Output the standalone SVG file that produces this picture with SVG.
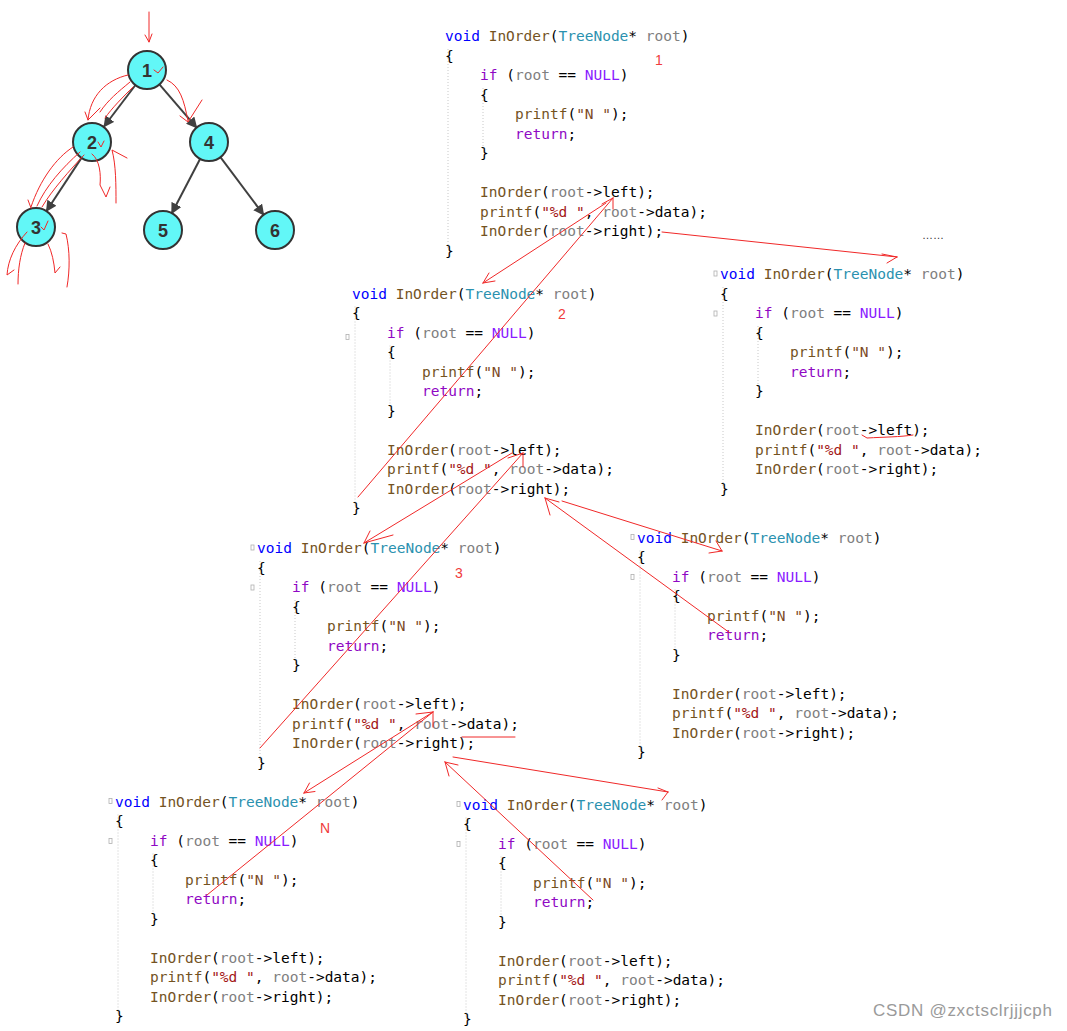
<svg xmlns="http://www.w3.org/2000/svg" width="1067" height="1031" viewBox="0 0 1067 1031">
<style>
.c{font-family:"DejaVu Sans Mono","Liberation Mono",monospace;font-size:14.5px;fill:#000}
.k{fill:#0000ff}.f{fill:#74531f}.t{fill:#2b91af}.p{fill:#808080}.r{fill:#8f08c4}.n{fill:#8a1bff}.s{fill:#a31515}.sn{fill:#7c4a26}
.g{stroke:#c8c8c8;stroke-width:1;stroke-dasharray:1 2;fill:none}
.m{fill:none;stroke:#b0b0b0;stroke-width:0.8}
.red{stroke:#f02828;stroke-width:1;fill:none;stroke-linecap:round;stroke-linejoin:round}
.num{font-family:"Liberation Sans",Arial,sans-serif;font-size:14px;fill:#f03c3c}
.nd{fill:#62f7f7;stroke:#333;stroke-width:2}
.nl{font-family:"Liberation Sans",Arial,sans-serif;font-size:18px;font-weight:bold;fill:#333;text-anchor:middle}
.e{stroke:#404040;stroke-width:2;fill:none}
</style>
<defs>
<marker id="ah" viewBox="0 0 10 10" refX="9" refY="5" markerWidth="5.5" markerHeight="5.5" orient="auto">
<path d="M0,0 L10,5 L0,10 z" fill="#404040"/>
</marker>
</defs>
<rect width="1067" height="1031" fill="#ffffff"/>

<!-- Tree -->
<g id="tree-edges">
<line class="e" x1="135.5" y1="85" x2="104" y2="126.5" marker-end="url(#ah)"/>
<line class="e" x1="159.4" y1="84.4" x2="196.6" y2="127.6" marker-end="url(#ah)"/>
<line class="e" x1="81.5" y1="157.9" x2="46.5" y2="211" marker-end="url(#ah)"/>
<line class="e" x1="200.2" y1="158.8" x2="171.8" y2="213.2" marker-end="url(#ah)"/>
<line class="e" x1="220.4" y1="157.2" x2="263.6" y2="214.8" marker-end="url(#ah)"/>
</g>
<g id="node-1"><circle class="nd" cx="147" cy="70" r="19"/><text class="nl" x="147" y="76.5">1</text></g>
<g id="node-2"><circle class="nd" cx="92" cy="142" r="19"/><text class="nl" x="92" y="148.5">2</text></g>
<g id="node-4"><circle class="nd" cx="209" cy="142" r="19"/><text class="nl" x="209" y="148.5">4</text></g>
<g id="node-3"><circle class="nd" cx="36" cy="227" r="19"/><text class="nl" x="36" y="233.5">3</text></g>
<g id="node-5"><circle class="nd" cx="163" cy="230" r="19"/><text class="nl" x="163" y="236.5">5</text></g>
<g id="node-6"><circle class="nd" cx="275" cy="230" r="19"/><text class="nl" x="275" y="236.5">6</text></g>

<!-- red scribbles on tree -->
<g id="tree-scribbles" class="red">
<path d="M149,12 L149,42 M145,35 L149,42 L152,34"/>
<path d="M154,70 L158,73 L163,67"/>
<path d="M128,75 C106,80 90,96 88,120 M85,112 L88,120 L100,108"/>
<path d="M133,87 C122,98 112,108 105,118"/>
<path d="M130,82 C118,92 108,100 100,112"/>
<path d="M167,80 C180,86 184,100 188,121 M180,116 L188,122 L202,100"/>
<path d="M98,142 L101,147 L104,141"/>
<path d="M73,147 C56,158 40,180 31,207 M28,200 L31,208"/>
<path d="M80,152 C62,168 46,186 37,206"/>
<path d="M84,155 C70,170 52,190 42,207"/>
<path d="M92,154 C100,160 101,175 100,185 L106,197 L110,187"/>
<path d="M127,158 L112,150 C116,165 116,185 116,203"/>
<path d="M41,227 L44,230 L48,221"/>
<path d="M27,232 C15,245 8,260 7,275 L14,270"/>
<path d="M25,243 C20,255 18,270 18,284"/>
<path d="M48,244 C52,252 54,262 55,273 L60,267"/>
<path d="M62,233 L66,234 C70,250 70,270 67,287"/>
</g>

<!-- Code blocks -->
<g id="block-1" transform="translate(445,41)">
<line class="g" x1="3" y1="8" x2="3" y2="208"/><line class="g" x1="38" y1="47" x2="38" y2="110"/>
<text class="c" x="0" y="0"><tspan class="k">void</tspan> <tspan class="f">InOrder</tspan>(<tspan class="t">TreeNode</tspan>* <tspan class="p">root</tspan>)</text>
<text class="c" x="0" y="19.5">{</text>
<text class="c" x="35" y="39"><tspan class="r">if</tspan> (<tspan class="p">root</tspan> == <tspan class="n">NULL</tspan>)</text>
<text class="c" x="35" y="58.5">{</text>
<text class="c" x="70" y="78"><tspan class="f">printf</tspan>(<tspan class="sn">"N "</tspan>);</text>
<text class="c" x="70" y="97.5"><tspan class="r">return</tspan>;</text>
<text class="c" x="35" y="117">}</text>
<text class="c" x="35" y="156"><tspan class="f">InOrder</tspan>(<tspan class="p">root</tspan>-&gt;left);</text>
<text class="c" x="35" y="175.5"><tspan class="f">printf</tspan>(<tspan class="s">"%d "</tspan>, <tspan class="p">root</tspan>-&gt;data);</text>
<text class="c" x="35" y="195"><tspan class="f">InOrder</tspan>(<tspan class="p">root</tspan>-&gt;right);</text>
<text class="c" x="0" y="214.5">}</text>
</g>

<g id="block-2" transform="translate(352,298.5)">
<line class="g" x1="3" y1="8" x2="3" y2="208"/><line class="g" x1="38" y1="47" x2="38" y2="110"/>
<rect class="m" x="-6" y="36" width="3" height="5"/>
<text class="c" x="0" y="0"><tspan class="k">void</tspan> <tspan class="f">InOrder</tspan>(<tspan class="t">TreeNode</tspan>* <tspan class="p">root</tspan>)</text>
<text class="c" x="0" y="19.5">{</text>
<text class="c" x="35" y="39"><tspan class="r">if</tspan> (<tspan class="p">root</tspan> == <tspan class="n">NULL</tspan>)</text>
<text class="c" x="35" y="58.5">{</text>
<text class="c" x="70" y="78"><tspan class="f">printf</tspan>(<tspan class="sn">"N "</tspan>);</text>
<text class="c" x="70" y="97.5"><tspan class="r">return</tspan>;</text>
<text class="c" x="35" y="117">}</text>
<text class="c" x="35" y="156"><tspan class="f">InOrder</tspan>(<tspan class="p">root</tspan>-&gt;left);</text>
<text class="c" x="35" y="175.5"><tspan class="f">printf</tspan>(<tspan class="s">"%d "</tspan>, <tspan class="p">root</tspan>-&gt;data);</text>
<text class="c" x="35" y="195"><tspan class="f">InOrder</tspan>(<tspan class="p">root</tspan>-&gt;right);</text>
<text class="c" x="0" y="214.5">}</text>
</g>

<g id="block-3" transform="translate(720,279)">
<line class="g" x1="3" y1="8" x2="3" y2="208"/><line class="g" x1="38" y1="47" x2="38" y2="110"/>
<rect class="m" x="-6" y="-8" width="3" height="5"/><rect class="m" x="-6" y="32" width="3" height="5"/>
<text class="c" x="0" y="0"><tspan class="k">void</tspan> <tspan class="f">InOrder</tspan>(<tspan class="t">TreeNode</tspan>* <tspan class="p">root</tspan>)</text>
<text class="c" x="0" y="19.5">{</text>
<text class="c" x="35" y="39"><tspan class="r">if</tspan> (<tspan class="p">root</tspan> == <tspan class="n">NULL</tspan>)</text>
<text class="c" x="35" y="58.5">{</text>
<text class="c" x="70" y="78"><tspan class="f">printf</tspan>(<tspan class="sn">"N "</tspan>);</text>
<text class="c" x="70" y="97.5"><tspan class="r">return</tspan>;</text>
<text class="c" x="35" y="117">}</text>
<text class="c" x="35" y="156"><tspan class="f">InOrder</tspan>(<tspan class="p">root</tspan>-&gt;left);</text>
<text class="c" x="35" y="175.5"><tspan class="f">printf</tspan>(<tspan class="s">"%d "</tspan>, <tspan class="p">root</tspan>-&gt;data);</text>
<text class="c" x="35" y="195"><tspan class="f">InOrder</tspan>(<tspan class="p">root</tspan>-&gt;right);</text>
<text class="c" x="0" y="214.5">}</text>
</g>

<g id="block-4" transform="translate(257,553)">
<line class="g" x1="3" y1="8" x2="3" y2="208"/><line class="g" x1="38" y1="47" x2="38" y2="110"/>
<rect class="m" x="-6" y="-8" width="3" height="5"/><rect class="m" x="-6" y="32" width="3" height="5"/>
<text class="c" x="0" y="0"><tspan class="k">void</tspan> <tspan class="f">InOrder</tspan>(<tspan class="t">TreeNode</tspan>* <tspan class="p">root</tspan>)</text>
<text class="c" x="0" y="19.5">{</text>
<text class="c" x="35" y="39"><tspan class="r">if</tspan> (<tspan class="p">root</tspan> == <tspan class="n">NULL</tspan>)</text>
<text class="c" x="35" y="58.5">{</text>
<text class="c" x="70" y="78"><tspan class="f">printf</tspan>(<tspan class="sn">"N "</tspan>);</text>
<text class="c" x="70" y="97.5"><tspan class="r">return</tspan>;</text>
<text class="c" x="35" y="117">}</text>
<text class="c" x="35" y="156"><tspan class="f">InOrder</tspan>(<tspan class="p">root</tspan>-&gt;left);</text>
<text class="c" x="35" y="175.5"><tspan class="f">printf</tspan>(<tspan class="s">"%d "</tspan>, <tspan class="p">root</tspan>-&gt;data);</text>
<text class="c" x="35" y="195"><tspan class="f">InOrder</tspan>(<tspan class="p">root</tspan>-&gt;right);</text>
<text class="c" x="0" y="214.5">}</text>
</g>

<g id="block-5" transform="translate(637,542.5)">
<line class="g" x1="3" y1="8" x2="3" y2="208"/><line class="g" x1="38" y1="47" x2="38" y2="110"/>
<rect class="m" x="-6" y="-8" width="3" height="5"/><rect class="m" x="-6" y="32" width="3" height="5"/>
<text class="c" x="0" y="0"><tspan class="k">void</tspan> <tspan class="f">InOrder</tspan>(<tspan class="t">TreeNode</tspan>* <tspan class="p">root</tspan>)</text>
<text class="c" x="0" y="19.5">{</text>
<text class="c" x="35" y="39"><tspan class="r">if</tspan> (<tspan class="p">root</tspan> == <tspan class="n">NULL</tspan>)</text>
<text class="c" x="35" y="58.5">{</text>
<text class="c" x="70" y="78"><tspan class="f">printf</tspan>(<tspan class="sn">"N "</tspan>);</text>
<text class="c" x="70" y="97.5"><tspan class="r">return</tspan>;</text>
<text class="c" x="35" y="117">}</text>
<text class="c" x="35" y="156"><tspan class="f">InOrder</tspan>(<tspan class="p">root</tspan>-&gt;left);</text>
<text class="c" x="35" y="175.5"><tspan class="f">printf</tspan>(<tspan class="s">"%d "</tspan>, <tspan class="p">root</tspan>-&gt;data);</text>
<text class="c" x="35" y="195"><tspan class="f">InOrder</tspan>(<tspan class="p">root</tspan>-&gt;right);</text>
<text class="c" x="0" y="214.5">}</text>
</g>

<g id="block-6" transform="translate(115,806.5)">
<line class="g" x1="3" y1="8" x2="3" y2="208"/><line class="g" x1="38" y1="47" x2="38" y2="110"/>
<rect class="m" x="-6" y="-8" width="3" height="5"/><rect class="m" x="-6" y="32" width="3" height="5"/>
<text class="c" x="0" y="0"><tspan class="k">void</tspan> <tspan class="f">InOrder</tspan>(<tspan class="t">TreeNode</tspan>* <tspan class="p">root</tspan>)</text>
<text class="c" x="0" y="19.5">{</text>
<text class="c" x="35" y="39"><tspan class="r">if</tspan> (<tspan class="p">root</tspan> == <tspan class="n">NULL</tspan>)</text>
<text class="c" x="35" y="58.5">{</text>
<text class="c" x="70" y="78"><tspan class="f">printf</tspan>(<tspan class="sn">"N "</tspan>);</text>
<text class="c" x="70" y="97.5"><tspan class="r">return</tspan>;</text>
<text class="c" x="35" y="117">}</text>
<text class="c" x="35" y="156"><tspan class="f">InOrder</tspan>(<tspan class="p">root</tspan>-&gt;left);</text>
<text class="c" x="35" y="175.5"><tspan class="f">printf</tspan>(<tspan class="s">"%d "</tspan>, <tspan class="p">root</tspan>-&gt;data);</text>
<text class="c" x="35" y="195"><tspan class="f">InOrder</tspan>(<tspan class="p">root</tspan>-&gt;right);</text>
<text class="c" x="0" y="214.5">}</text>
</g>

<g id="block-7" transform="translate(463,809.5)">
<line class="g" x1="3" y1="8" x2="3" y2="208"/><line class="g" x1="38" y1="47" x2="38" y2="110"/>
<rect class="m" x="-6" y="-8" width="3" height="5"/><rect class="m" x="-6" y="32" width="3" height="5"/>
<text class="c" x="0" y="0"><tspan class="k">void</tspan> <tspan class="f">InOrder</tspan>(<tspan class="t">TreeNode</tspan>* <tspan class="p">root</tspan>)</text>
<text class="c" x="0" y="19.5">{</text>
<text class="c" x="35" y="39"><tspan class="r">if</tspan> (<tspan class="p">root</tspan> == <tspan class="n">NULL</tspan>)</text>
<text class="c" x="35" y="58.5">{</text>
<text class="c" x="70" y="78"><tspan class="f">printf</tspan>(<tspan class="sn">"N "</tspan>);</text>
<text class="c" x="70" y="97.5"><tspan class="r">return</tspan>;</text>
<text class="c" x="35" y="117">}</text>
<text class="c" x="35" y="156"><tspan class="f">InOrder</tspan>(<tspan class="p">root</tspan>-&gt;left);</text>
<text class="c" x="35" y="175.5"><tspan class="f">printf</tspan>(<tspan class="s">"%d "</tspan>, <tspan class="p">root</tspan>-&gt;data);</text>
<text class="c" x="35" y="195"><tspan class="f">InOrder</tspan>(<tspan class="p">root</tspan>-&gt;right);</text>
<text class="c" x="0" y="214.5">}</text>
</g>

<!-- annotations -->
<g id="labels">
<text class="num" x="655" y="65">1</text>
<text class="num" x="558" y="319">2</text>
<text class="num" x="455" y="578">3</text>
<text class="num" x="320" y="833">N</text>
<text x="922" y="239" font-family="Liberation Sans,Arial,sans-serif" font-size="11" fill="#333">……</text>
</g>

<!-- red call/return connectors -->
<g id="connectors" class="red">
<!-- block1 left -> block2 -->
<path d="M606,203 L483,283 M483,283 L495,281 M483,283 L489,273"/>
<!-- block2 end -> block1 left -->
<path d="M358,497 L613,198 M613,198 L602,204 M613,198 L613,209"/>
<!-- block1 right -> block3 -->
<path d="M662,232 L897,257 M897,257 L882,254 M897,257 L887,263"/>
<!-- block3 underline -->
<path d="M862,435 L867,438 C885,437 900,437 913,435"/>
<!-- block2 left -> block4 -->
<path d="M512,453 L364,543 M364,543 L370,531 M364,543 L393,535"/>
<!-- block4 end -> block2 left -->
<path d="M260,748 L523,453 M523,453 L508,458 M523,453 L523,467"/>
<!-- block2 right -> block5 -->
<path d="M562,501 L722,551 M722,551 L709,553 M722,551 L716,541"/>
<!-- block5 return -> block2 right -->
<path d="M730,633 L545,498 M545,498 L550,515 M545,498 L559,502"/>
<!-- block4 underline -->
<path d="M462,737 L515,737"/>
<!-- block4 left -> block6 -->
<path d="M433,712 L304,793 M304,793 L315,791.5 M304,793 L309.5,783"/>
<!-- block6 return -> block4 left -->
<path d="M207,895 L433,712 M433,712 L416,714 M433,712 L433,727"/>
<!-- block4 right -> block7 -->
<path d="M453,757 L668,792 M668,792 L658,788 M668,792 L662,800"/>
<!-- block7 return -> block4 right -->
<path d="M593,900 L445,762 M445,762 L449,776 M445,762 L458,765"/>
</g>

<text x="873" y="1016" font-family="Liberation Sans,Arial,sans-serif" font-size="17" fill="#9a9a9a" textLength="179">CSDN @zxctsclrjjjcph</text>
</svg>
